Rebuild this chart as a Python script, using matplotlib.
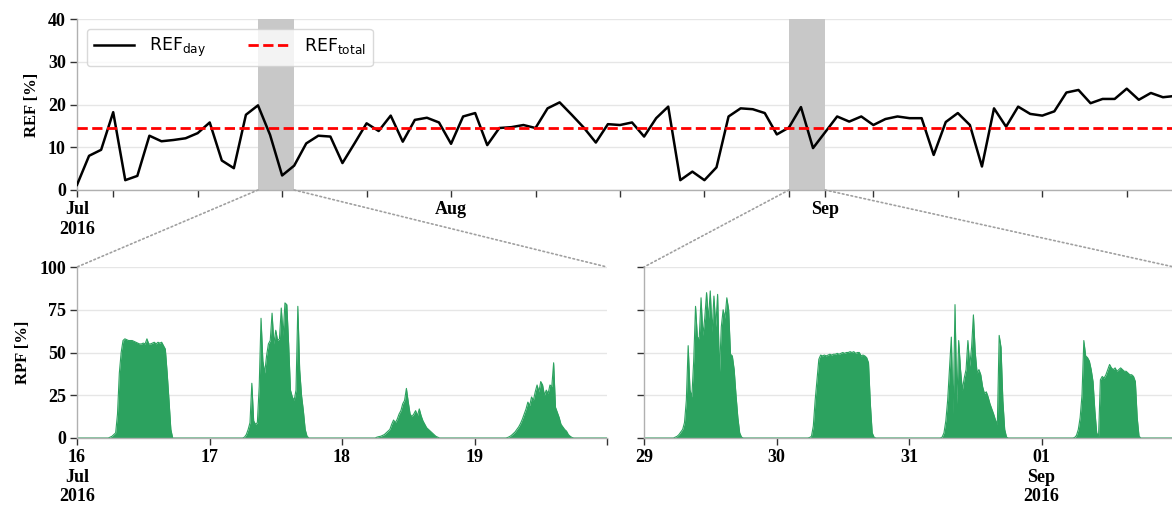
import matplotlib
matplotlib.use("Agg")
import matplotlib.pyplot as plt
import matplotlib.dates as mdates
from matplotlib.patches import ConnectionPatch
import pandas as pd

# daily REF [%], Jul 1 - Sep 30 2016
ref_jul = [1.2, 8.0, 9.4, 18.2, 2.3, 3.3, 12.7, 11.4, 11.7, 12.1,
           13.3, 15.8, 6.9, 5.1, 17.6, 19.8, 12.9, 3.4, 5.7, 10.9,
           12.7, 12.5, 6.3, 10.9, 15.6, 13.8, 17.4, 11.3, 16.4, 16.9, 15.8]
ref_aug = [10.8, 17.2, 18.0, 10.5, 14.5, 14.7, 15.2, 14.5, 19.1, 20.5,
           17.6, 14.6, 11.1, 15.4, 15.2, 15.8, 12.5, 16.8, 19.5, 2.3,
           4.3, 2.3, 5.3, 17.2, 19.1, 18.9, 18.0, 13.0, 14.6, 19.4, 9.8]
ref_sep = [13.5, 17.2, 16.0, 17.2, 15.2, 16.6, 17.2, 16.8, 16.8, 8.2,
           15.9, 18.0, 15.2, 5.5, 19.1, 14.8, 19.5, 17.8, 17.4, 18.4,
           22.8, 23.4, 20.3, 21.3, 21.3, 23.7, 21.1, 22.7, 21.7, 22.0]
ref_total = 14.6

# RPF [%] every 20 min from 05:00 to 18:00 (zero outside)
rpf_jul16 = [0, 0, 0, 0.5, 1, 2, 3, 14, 38, 50, 57, 58, 57.5, 57, 57, 57, 56.5, 56, 55.5, 55,
             55, 55.5, 55, 58, 55, 55, 55.5, 56, 55, 56, 55.5, 56, 54, 52, 38, 22, 5, 0, 0, 0]
rpf_jul17 = [0, 0, 0, 0, 0.5, 2, 5, 9, 32, 10, 8, 9, 30, 70, 45, 38, 48, 55, 57, 73,
             55, 63, 57, 58, 76, 60, 79, 78, 55, 28, 24, 22, 28, 77, 40, 25, 16, 5, 1, 0]
rpf_jul18 = [0, 0, 0, 0, 0.5, 0.8, 1, 1.5, 2, 3, 4, 5, 8, 10.5, 9, 11, 14, 16, 20, 22,
             29, 21, 14, 12.5, 14, 16, 13, 17, 13, 10, 8, 6, 5, 4, 3, 2, 1, 0.5, 0, 0]
rpf_jul19 = [0, 0, 0, 0.3, 0.8, 1.5, 2.5, 3.5, 5, 6.5, 8.5, 11, 14, 17, 21, 19, 24, 22, 27, 31,
             27, 33, 31, 25, 28, 26, 31, 30, 44, 18, 15, 12, 8, 6.5, 5, 4, 2, 1, 0.3, 0]
rpf_aug29 = [0, 0, 0.5, 1, 2, 3.5, 5, 9, 22, 54, 28, 24, 45, 77, 59, 58, 82, 60, 70, 85,
             69, 86, 62, 83, 65, 84, 38, 65, 75, 70, 82, 75, 49, 48, 40, 25, 12, 3, 0.5, 0]
rpf_aug30 = [0, 0, 0, 0.3, 1, 7, 22, 34, 46, 48.5, 48, 48.5, 48, 48.5, 49, 48.5, 49, 49, 49.5, 49,
             49.5, 50, 49.5, 50, 50, 50.5, 50, 50.5, 49.5, 50, 50, 48, 48.5, 48, 47, 44, 20, 3, 0.5, 0]
rpf_aug31 = [0, 0, 0, 0.5, 3, 10, 22, 40, 59, 14, 78, 20, 57, 40, 28, 35, 40, 57, 42, 53,
             72, 50, 38, 40, 37, 30, 26, 27, 24, 20, 17, 14, 10.5, 8, 60, 53, 22, 5, 0.5, 0]
rpf_sep01 = [0, 0, 0, 0.3, 1.5, 5, 12, 25, 57, 48, 47, 45, 40, 33, 16, 3, 1, 34, 36, 35,
             37, 40, 43, 41, 40, 41, 39, 40, 41, 40, 39, 39, 38, 37, 37, 36, 33, 12, 1, 0]

left_days = ["2016-07-16", "2016-07-17", "2016-07-18", "2016-07-19"]
right_days = ["2016-08-29", "2016-08-30", "2016-08-31", "2016-09-01"]
left_labels = ["16\nJul\n2016", "17", "18", "19", ""]
right_labels = ["29", "30", "31", "01\nSep\n2016", ""]
top_labels = ["Jul\n2016", "Aug", "Sep"]

green = "#2ca25f"
plt.rcParams["font.family"] = "serif"
plt.rcParams["font.serif"] = ["Liberation Serif", "DejaVu Serif"]
plt.rcParams["mathtext.fontset"] = "dejavusans"


def rpf_series(days, values):
    idx = pd.date_range(days[0], pd.Timestamp(days[-1]) + pd.Timedelta(days=1), freq="20min")
    s = pd.Series(0.0, index=idx)
    for day, vals in zip(days, values):
        t = pd.date_range(pd.Timestamp(day) + pd.Timedelta(hours=5), periods=len(vals), freq="20min")
        s.loc[t] = vals
    return s


def style(ax):
    for sp in ["top", "right"]:
        ax.spines[sp].set_visible(False)
    for sp in ["left", "bottom"]:
        ax.spines[sp].set_color("#b0b0b0")
        ax.spines[sp].set_linewidth(1)
    ax.yaxis.grid(True, color="#e6e6e6", lw=1)
    ax.set_axisbelow(True)
    ax.tick_params(which="both", direction="out", length=5, width=1, color="#333333",
                   labelsize=13, pad=3)
    for lab in ax.get_xticklabels() + ax.get_yticklabels():
        lab.set_fontweight("bold")


W, H = 1172, 507
fig = plt.figure(figsize=(W / 100, H / 100), dpi=100)

# top panel
ref = ref_jul + ref_aug + ref_sep
dates = pd.date_range("2016-07-01", periods=len(ref), freq="D")
ax = fig.add_axes([77 / W, (H - 190) / H, (1175 - 77) / W, 171 / H])
ax.plot(dates, ref, color="black", lw=1.8, label=r"REF$_{\mathrm{day}}$", zorder=3)
ax.axhline(ref_total, color="red", ls="--", lw=2, label=r"REF$_{\mathrm{total}}$", zorder=4)
ax.axvspan(pd.Timestamp(left_days[0]), pd.Timestamp(left_days[-1]), color="#c8c8c8", lw=0, zorder=1)
ax.axvspan(pd.Timestamp(right_days[0]), pd.Timestamp(right_days[-1]), color="#c8c8c8", lw=0, zorder=1)
ax.set_xlim(dates[0], dates[-1])
ax.set_ylim(0, 40)
ax.set_yticks([0, 10, 20, 30, 40])
ax.set_xticks(pd.to_datetime(["2016-07-01", "2016-08-01", "2016-09-01"]))
ax.set_xticklabels(top_labels)
ax.xaxis.set_minor_locator(mdates.WeekdayLocator(byweekday=mdates.MO))
ax.set_ylabel("REF [%]", fontsize=12, fontweight="bold", labelpad=6)
style(ax)
ax.legend(loc="upper left", ncol=2, prop={"family": "DejaVu Sans", "size": 12.5},
          handlelength=2.3, handletextpad=0.9, columnspacing=2.4, borderaxespad=0,
          framealpha=0.8, edgecolor="#d0d0d0", bbox_to_anchor=(0.009, 0.942))

# bottom panels
panels = [
    (left_days, [rpf_jul16, rpf_jul17, rpf_jul18, rpf_jul19], left_labels, 77),
    (right_days, [rpf_aug29, rpf_aug30, rpf_aug31, rpf_sep01], right_labels, 644),
]
for i, (days, vals, labels, x0) in enumerate(panels):
    s = rpf_series(days, vals)
    axb = fig.add_axes([x0 / W, (H - 438) / H, 530 / W, 171 / H])
    axb.fill_between(s.index, 0, s.values, color=green, lw=0)
    axb.plot(s.index, s.values, color=green, lw=0.8)
    axb.set_xlim(s.index[0], s.index[-1])
    axb.set_ylim(0, 100)
    axb.set_yticks([0, 25, 50, 75, 100])
    ticks = pd.to_datetime(days + [s.index[-1]])
    axb.set_xticks(ticks)
    axb.set_xticklabels(labels)
    style(axb)
    if i == 0:
        axb.set_ylabel("RPF [%]", fontsize=12, fontweight="bold", labelpad=6)
    else:
        axb.set_yticklabels([])
    # zoom connectors
    for xa, xb in [(days[0], 0), (days[-1], 1)]:
        con = ConnectionPatch(xyA=(mdates.date2num(pd.Timestamp(xa)), 0), coordsA=ax.transData,
                              xyB=(xb, 1), coordsB=axb.transAxes,
                              color="#a0a0a0", ls=":", lw=1.2)
        fig.add_artist(con)

fig.savefig("out.png", dpi=100)
